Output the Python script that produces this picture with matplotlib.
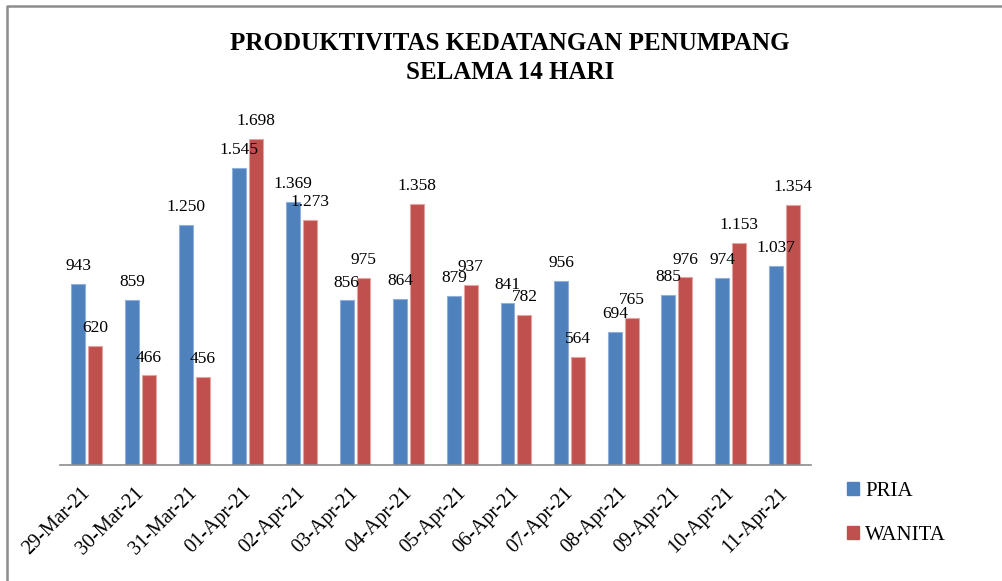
import matplotlib
matplotlib.use("Agg")
import matplotlib.pyplot as plt
from matplotlib.lines import Line2D
import matplotlib.transforms as mtransforms
import numpy as np

categories = ["29-Mar-21", "30-Mar-21", "31-Mar-21", "01-Apr-21", "02-Apr-21",
              "03-Apr-21", "04-Apr-21", "05-Apr-21", "06-Apr-21", "07-Apr-21",
              "08-Apr-21", "09-Apr-21", "10-Apr-21", "11-Apr-21"]
pria = [943, 859, 1250, 1545, 1369, 856, 864, 879, 841, 956, 694, 885, 974, 1037]
wanita = [620, 466, 456, 1698, 1273, 975, 1358, 937, 782, 564, 765, 976, 1153, 1354]
series_names = ["PRIA", "WANITA"]
title = "PRODUKTIVITAS KEDATANGAN PENUMPANG\nSELAMA 14 HARI"

blue = "#4F81BD"
red = "#C0504D"
serif = ["Liberation Serif", "DejaVu Serif"]

W, H = 1003, 581
fig = plt.figure(figsize=(W / 100, H / 100), dpi=100)
ax = fig.add_axes([60 / W, (H - 465) / H, 751 / W, 346 / H])

x = np.arange(len(categories))
bw = 0.26
off = 0.158
b1 = ax.bar(x - off, pria, bw, color=blue, edgecolor="#8EB0DA", linewidth=0.8)
b2 = ax.bar(x + off, wanita, bw, color=red, edgecolor="#E3A3A1", linewidth=0.8)

fmt = lambda v: f"{v:,}".replace(",", ".")
for bars, vals in ((b1, pria), (b2, wanita)):
    for rect, v in zip(bars, vals):
        ax.annotate(fmt(v), (rect.get_x() + rect.get_width() / 2, v),
                    xytext=(0, 10), textcoords="offset points",
                    ha="center", va="baseline", fontsize=12.5, family=serif)

ax.set_xlim(-0.5, len(categories) - 0.5)
ax.set_ylim(0, 1800)
ax.set_yticks([])
for s in ("top", "right", "left"):
    ax.spines[s].set_visible(False)
ax.spines["bottom"].set_color("#8C8C8C")
ax.spines["bottom"].set_linewidth(1.2)
ax.set_xticks(x)
ax.set_xticklabels(categories, rotation=45, ha="right", rotation_mode="anchor",
                   fontsize=14.5, family=serif)
ax.tick_params(axis="x", length=0, pad=12)
shift = mtransforms.ScaledTranslation(-6 / 100, -2 / 100, fig.dpi_scale_trans)
for lbl in ax.get_xticklabels():
    lbl.set_transform(lbl.get_transform() + shift)

fig.text(510 / W, 1 - 58 / H, title, ha="center", va="center", fontsize=18,
         fontweight="bold", family=serif, linespacing=1.38)

handles = [plt.Rectangle((0, 0), 1, 1, color=blue), plt.Rectangle((0, 0), 1, 1, color=red)]
leg = fig.legend(handles, series_names, loc="upper left",
                 bbox_to_anchor=(828 / W, 1 - 463 / H), frameon=False,
                 prop={"family": serif, "size": 15}, handlelength=0.58,
                 handleheight=0.58, handletextpad=0.3, labelspacing=1.22)

# outer frame (top and left edges)
fig.add_artist(Line2D([7 / W, 7 / W, 1.0], [0, 1 - 6 / H, 1 - 6 / H],
                      transform=fig.transFigure, color="#8C8C8C", linewidth=1.8))

fig.savefig("out.png", dpi=100)
